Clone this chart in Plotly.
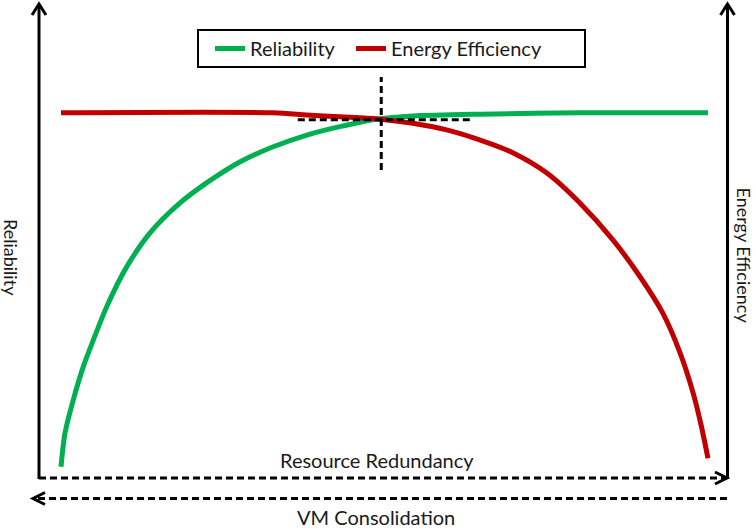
import plotly.graph_objects as go

W, H = 756, 529

# Data (x = resource redundancy, 0..100)
redundancy_green = [0, 0.62, 1.9, 3.45, 5.0, 7.06, 10.15, 13.76, 18.4, 22.5, 27.7,
                    32.8, 38.0, 43.1, 49.0, 54.4, 64.8, 80.2, 100]
reliability = [3.1, 12.3, 21.4, 30.5, 37.8, 46.9, 57.8, 67.1, 75.3, 80.8, 86.6,
               90.7, 93.9, 96.2, 98.3, 99.1, 99.6, 100, 100]
redundancy_red = [0, 32.8, 38.0, 43.1, 49.0, 54.4, 59.6, 64.8, 69.9, 75.1, 80.2,
                  85.3, 89.5, 93.0, 95.7, 97.7, 99.0, 100]
energy_efficiency = [100, 100, 99.4, 98.9, 98.3, 97.1, 95.3, 92.5, 89.0, 83.5, 75.3,
                     65.2, 55.1, 45.2, 34.2, 23.3, 14.0, 5.4]

series_names = ["Reliability", "Energy Efficiency"]
crossover = (49.5, 98.1)
cross_h = (36.6, 63.8)
cross_v = (84.3, 109.8)

GREEN = "#00B050"
RED = "#C00000"
FONT = "Lato"
TXT = "#1a1a1a"


def fx(px):
    return px / W


def fy(py):
    return 1 - py / H


fig = go.Figure()
fig.add_trace(go.Scatter(x=redundancy_green, y=reliability, mode="lines",
                         name=series_names[0], legend="legend",
                         line=dict(color=GREEN, width=5, shape="spline", smoothing=0.8)))
fig.add_trace(go.Scatter(x=redundancy_red, y=energy_efficiency, mode="lines",
                         name=series_names[1], legend="legend2",
                         line=dict(color=RED, width=5, shape="spline", smoothing=0.8)))

DASH = "7px,4px"
blk = dict(color="black", width=3)
blkd = dict(color="black", width=3, dash=DASH)


def pline(x0, y0, x1, y1, line):
    return dict(type="line", xref="paper", yref="paper",
                x0=fx(x0), y0=fy(y0), x1=fx(x1), y1=fy(y1), line=line)


def chevron(pts):
    p = "M " + " L ".join(f"{fx(a):.5f},{fy(b):.5f}" for a, b in pts)
    return dict(type="path", xref="paper", yref="paper", path=p, line=blk)


shapes = [
    pline(39, 479, 39, 5, blk),
    chevron([(32, 15), (39, 4), (46, 15)]),
    pline(727.5, 479, 727.5, 5, blk),
    chevron([(720.5, 15), (727.5, 4), (734.5, 15)]),
    pline(39, 478, 724, 478, blkd),
    chevron([(715, 472), (727, 478), (715, 484)]),
    pline(727, 498.5, 36, 498.5, blkd),
    chevron([(45, 492.5), (33, 498.5), (45, 504.5)]),
    dict(type="line", xref="x", yref="y", x0=cross_h[0], x1=cross_h[1],
         y0=crossover[1], y1=crossover[1], line=blkd),
    dict(type="line", xref="x", yref="y", x0=crossover[0], x1=crossover[0],
         y0=cross_v[0], y1=cross_v[1], line=blkd),
    # legend frame
    dict(type="rect", xref="paper", yref="paper", x0=fx(198), x1=fx(585),
         y0=fy(67), y1=fy(30), line=dict(color="black", width=2), fillcolor="white",
         layer="below"),
]

tfont = dict(family=FONT, size=20, color=TXT)
afont = dict(family=FONT, size=18, color=TXT)
annotations = [
    dict(text="Resource Redundancy", x=fx(377), y=fy(460), xref="paper", yref="paper",
         showarrow=False, font=tfont, xanchor="center", yanchor="middle"),
    dict(text="VM Consolidation", x=fx(376), y=fy(517), xref="paper", yref="paper",
         showarrow=False, font=tfont, xanchor="center", yanchor="middle"),
    dict(text="Reliability", x=fx(11), y=fy(257), xref="paper", yref="paper",
         showarrow=False, font=afont, textangle=90, xanchor="center", yanchor="middle"),
    dict(text="Energy Efficiency", x=fx(744), y=fy(255.5), xref="paper", yref="paper",
         showarrow=False, font=afont, textangle=90, xanchor="center", yanchor="middle"),
]

leg_common = dict(orientation="h", xanchor="left", y=fy(48.5), yanchor="middle",
                  borderwidth=0, bgcolor="rgba(0,0,0,0)",
                  font=dict(family=FONT, size=20, color=TXT), itemwidth=30)

fig.update_layout(
    width=W, height=H,
    margin=dict(l=0, r=0, t=0, b=0),
    paper_bgcolor="white", plot_bgcolor="white",
    xaxis=dict(domain=[38 / W, 727 / W], range=[-3.555, 102.94], visible=False,
               fixedrange=True),
    yaxis=dict(domain=[fy(478), fy(5)], range=[0, 129.5], visible=False,
               fixedrange=True),
    shapes=shapes,
    annotations=annotations,
    showlegend=True,
    legend=dict(x=fx(210), **leg_common),
    legend2=dict(x=fx(351), **leg_common),
    font=dict(family=FONT),
)

fig.write_html("out.html", config={"displayModeBar": False},
               post_script="document.body.style.margin='0';")
